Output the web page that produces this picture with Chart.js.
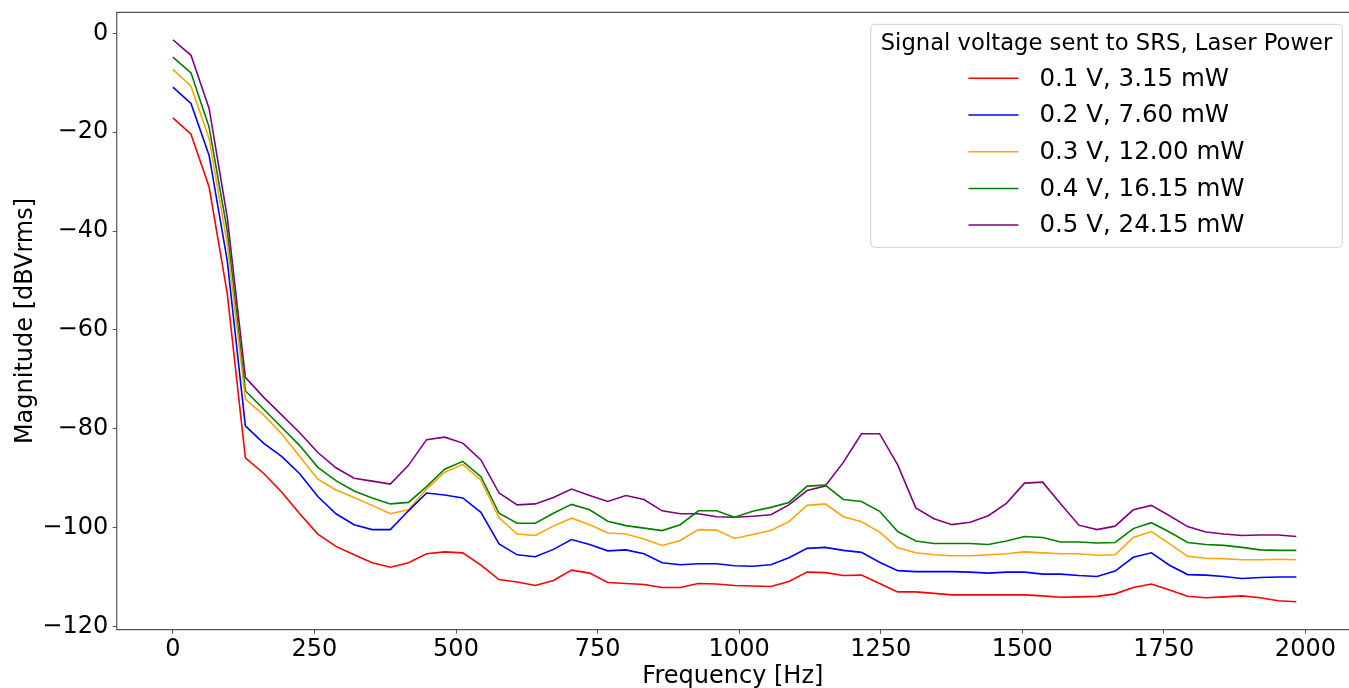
<!DOCTYPE html>
<html>
<head>
<meta charset="utf-8">
<script src="https://cdn.jsdelivr.net/npm/chart.js@4.4.1/dist/chart.umd.min.js"></script>
<style>
  html, body { margin: 0; padding: 0; background: #fff; overflow: hidden; }
</style>
</head>
<body>
<canvas id="myChart" width="1349" height="688"></canvas>
<script>
// Frecuencias [Hz]
const freqs = [0, 32, 64, 96, 128, 160, 192, 224, 256, 288, 320, 352, 384, 416, 448, 480,
  512, 544, 576, 608, 640, 672, 704, 736, 768, 800, 832, 864, 896, 928, 960, 992,
  1024, 1056, 1088, 1120, 1152, 1184, 1216, 1248, 1280, 1312, 1344, 1376, 1408, 1440,
  1472, 1504, 1536, 1568, 1600, 1632, 1664, 1696, 1728, 1760, 1792, 1824, 1856, 1888,
  1920, 1952, 1984];

// Magnitud [dBVrms] por serie
const v01 = [-17.1, -20.4, -31.1, -52.6, -85.9, -89.0, -92.8, -97.2, -101.3, -103.8, -105.5,
  -107.1, -108.0, -107.1, -105.3, -104.9, -105.1, -107.6, -110.5, -111.0, -111.7, -110.7,
  -108.6, -109.2, -111.1, -111.3, -111.5, -112.1, -112.1, -111.3, -111.4, -111.7, -111.8,
  -111.9, -110.9, -109.0, -109.1, -109.7, -109.6, -111.3, -113.0, -113.0, -113.3, -113.6,
  -113.6, -113.6, -113.6, -113.6, -113.8, -114.1, -114.0, -113.9, -113.4, -112.1, -111.4,
  -112.6, -113.9, -114.2, -114.0, -113.8, -114.2, -114.8, -115.0];
const v02 = [-10.9, -14.2, -24.7, -46.0, -79.4, -82.9, -85.6, -89.1, -93.7, -97.2, -99.4,
  -100.4, -100.4, -96.6, -93.0, -93.4, -94.0, -96.9, -103.3, -105.5, -105.9, -104.4,
  -102.4, -103.4, -104.7, -104.5, -105.3, -107.1, -107.5, -107.3, -107.3, -107.7, -107.8,
  -107.5, -106.1, -104.2, -104.0, -104.6, -105.0, -107.0, -108.7, -108.9, -108.9, -108.9,
  -109.0, -109.2, -109.0, -109.0, -109.4, -109.4, -109.7, -109.9, -108.8, -106.0, -105.1,
  -107.6, -109.5, -109.6, -109.9, -110.3, -110.1, -110.0, -110.0];
const v03 = [-7.3, -10.7, -21.3, -42.5, -74.0, -77.2, -81.0, -85.6, -90.2, -92.4, -93.9,
  -95.5, -97.2, -96.4, -92.2, -88.8, -87.2, -90.4, -98.0, -101.3, -101.6, -99.7,
  -98.1, -99.4, -101.1, -101.3, -102.3, -103.6, -102.6, -100.4, -100.5, -102.2, -101.4,
  -100.6, -98.8, -95.5, -95.2, -97.8, -98.8, -100.9, -104.1, -105.1, -105.5, -105.7,
  -105.7, -105.5, -105.3, -104.9, -105.1, -105.3, -105.3, -105.6, -105.5, -102.0, -100.8,
  -103.3, -105.8, -106.2, -106.3, -106.5, -106.5, -106.4, -106.5];
const v04 = [-4.8, -8.0, -19.0, -39.9, -72.3, -76.0, -79.7, -83.4, -87.8, -90.5, -92.6,
  -94.0, -95.2, -94.9, -91.7, -88.2, -86.6, -89.7, -97.1, -99.1, -99.1, -97.1,
  -95.3, -96.4, -98.7, -99.6, -100.1, -100.6, -99.4, -96.6, -96.6, -97.9, -96.7,
  -95.9, -94.9, -91.6, -91.4, -94.3, -94.7, -96.7, -100.8, -102.7, -103.2, -103.2,
  -103.2, -103.4, -102.7, -101.8, -102.0, -102.9, -102.9, -103.1, -103.0, -100.2, -99.0,
  -100.9, -103.0, -103.4, -103.6, -104.0, -104.5, -104.6, -104.6];
const v05 = [-1.3, -4.45, -15.2, -37.2, -69.6, -73.6, -77.2, -80.8, -84.8, -87.9, -90.0,
  -90.6, -91.2, -87.4, -82.2, -81.7, -82.9, -86.3, -93.0, -95.4, -95.2, -93.9,
  -92.2, -93.5, -94.7, -93.5, -94.3, -96.6, -97.2, -97.2, -97.8, -97.9, -97.7,
  -97.4, -95.4, -92.5, -91.6, -86.8, -81.0, -81.0, -87.3, -96.0, -98.2, -99.4,
  -98.9, -97.6, -95.1, -91.0, -90.8, -95.2, -99.5, -100.4, -99.7, -96.4, -95.5,
  -97.6, -99.8, -100.9, -101.3, -101.6, -101.5, -101.5, -101.8];

const etiquetas = ['0.1 V, 3.15 mW', '0.2 V, 7.60 mW', '0.3 V, 12.00 mW', '0.4 V, 16.15 mW', '0.5 V, 24.15 mW'];
const colores = ['#ff0000', '#0000ff', '#ffa500', '#008000', '#800080'];
const tituloLeyenda = 'Signal voltage sent to SRS, Laser Power';

const xTicks = [0, 250, 500, 750, 1000, 1250, 1500, 1750, 2000];
const yTicks = [0, -20, -40, -60, -80, -100, -120];

const FONT = "'DejaVu Sans', sans-serif";
const fmt = v => (v < 0 ? '\u2212' + Math.abs(v) : String(v));

// Marco (izquierda, arriba, abajo; el borde derecho queda fuera de la imagen)
const marco = {
    id: 'marco',
    afterDatasetsDraw(chart) {
        const a = chart.chartArea, c = chart.ctx;
        c.save();
        c.strokeStyle = '#555';
        c.lineWidth = 1.2;
        c.beginPath();
        c.moveTo(a.right + 2, a.top);
        c.lineTo(a.left, a.top);
        c.lineTo(a.left, a.bottom);
        c.lineTo(a.right + 2, a.bottom);
        c.stroke();
        c.restore();
    }
};

// Leyenda al estilo matplotlib (con título)
const leyenda = {
    id: 'leyenda',
    afterDatasetsDraw(chart) {
        const a = chart.chartArea, c = chart.ctx;
        c.save();
        c.font = '22.7px ' + FONT;
        const tw = c.measureText(tituloLeyenda).width;
        c.font = '24.5px ' + FONT;
        const lw = Math.max(...etiquetas.map(t => c.measureText(t).width));
        const handle = 50, gap = 21;
        const boxW = Math.max(tw, handle + gap + lw) + 20;
        const boxH = 223;
        const right = 1342.3, top = a.top + 12;
        const left = right - boxW;
        const cx = left + boxW / 2;

        c.beginPath();
        c.roundRect(left, top, boxW, boxH, 4);
        c.fillStyle = 'rgba(255,255,255,0.8)';
        c.fill();
        c.strokeStyle = '#d0d0d0';
        c.lineWidth = 1;
        c.stroke();

        c.fillStyle = '#000';
        c.textBaseline = 'middle';
        c.textAlign = 'center';
        c.font = '22.7px ' + FONT;
        c.fillText(tituloLeyenda, cx, top + 19.5);

        const blockW = handle + gap + lw;
        const x0 = cx - blockW / 2;
        c.textAlign = 'left';
        c.font = '24.5px ' + FONT;
        chart.data.datasets.forEach((ds, k) => {
            const y = top + 54 + k * 36.7;
            c.strokeStyle = ds.borderColor;
            c.lineWidth = 1.5;
            c.beginPath();
            c.moveTo(x0, y);
            c.lineTo(x0 + handle, y);
            c.stroke();
            c.fillStyle = '#000';
            c.fillText(ds.label, x0 + handle + gap, y + 1);
        });
        c.restore();
    }
};

const series = [v01, v02, v03, v04, v05];

const ctx = document.getElementById('myChart').getContext('2d');
const chart = new Chart(ctx, {
    type: 'line',
    data: {
        datasets: series.map((s, k) => ({
            label: etiquetas[k],
            data: freqs.map((f, i) => ({ x: f, y: s[i] })),
            borderColor: colores[k],
            backgroundColor: colores[k],
            borderWidth: 1.6,
            pointRadius: 0,
            tension: 0,
            fill: false
        }))
    },
    options: {
        responsive: false,
        animation: false,
        layout: { padding: { top: 12.3, right: 0, bottom: 0, left: 0 } },
        plugins: {
            legend: { display: false },
            tooltip: { enabled: false }
        },
        scales: {
            x: {
                type: 'linear',
                min: -99.2,
                max: 2077.0,
                afterBuildTicks: s => { s.ticks = xTicks.map(v => ({ value: v })); },
                afterFit: s => { s.height = 58.3; s.paddingLeft = 0; s.paddingRight = 0; },
                grid: { drawOnChartArea: false, drawTicks: true, tickLength: 4, color: '#555' },
                border: { display: false },
                ticks: {
                    color: '#000',
                    padding: 2,
                    maxRotation: 0,
                    font: { family: FONT, size: 24 },
                    callback: v => fmt(v)
                },
                title: {
                    display: true,
                    text: 'Frequency [Hz]',
                    color: '#000',
                    padding: { top: 0, bottom: -3 },
                    font: { family: FONT, size: 24 }
                }
            },
            y: {
                type: 'linear',
                min: -120.65,
                max: 4.25,
                afterBuildTicks: s => { s.ticks = yTicks.map(v => ({ value: v })); },
                afterFit: s => { s.width = 116.7; s.paddingTop = 0; s.paddingBottom = 0; },
                grid: { drawOnChartArea: false, drawTicks: true, tickLength: 4, color: '#555' },
                border: { display: false },
                ticks: {
                    color: '#000',
                    padding: 4.5,
                    font: { family: FONT, size: 24 },
                    callback: v => fmt(v)
                },
                title: {
                    display: true,
                    text: 'Magnitude [dBVrms]',
                    color: '#000',
                    padding: { top: 11, bottom: 0 },
                    font: { family: FONT, size: 24 }
                }
            }
        }
    },
    plugins: [marco, leyenda]
});
</script>
</body>
</html>
